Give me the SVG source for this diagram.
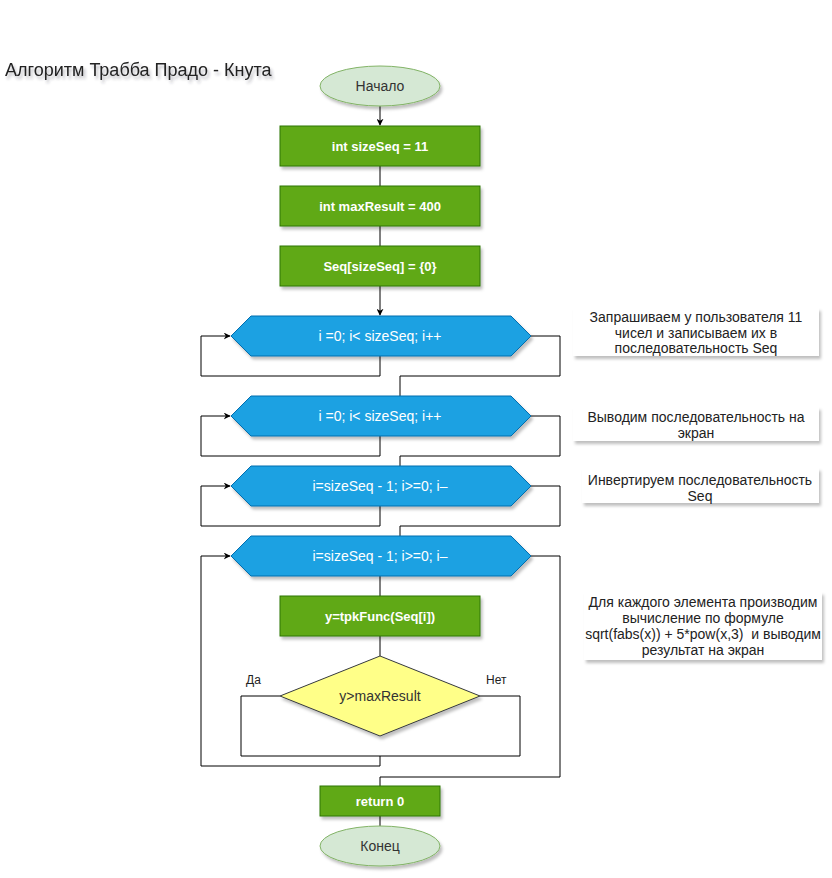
<svg xmlns="http://www.w3.org/2000/svg" width="832" height="878" viewBox="0 0 832 878">
<defs>
<filter id="sh" x="-10%" y="-20%" width="130%" height="160%">
<feDropShadow dx="2" dy="3" stdDeviation="1.5" flood-color="#000" flood-opacity="0.25"/>
</filter>
<filter id="tsh" x="-5%" y="-30%" width="115%" height="180%">
<feDropShadow dx="2" dy="3" stdDeviation="1.5" flood-color="#334" flood-opacity="0.35"/>
</filter>
<marker id="ar" viewBox="0 0 10 10" refX="9" refY="5" markerWidth="7" markerHeight="7" orient="auto" markerUnits="userSpaceOnUse">
<path d="M0,0 L10,5 L0,10 L3,5 Z" fill="#000"/>
</marker>
<style>
.t{font-family:"Liberation Sans",Arial,sans-serif;}
.g{fill:#60a917;stroke:#2d7600;stroke-width:1;filter:url(#sh);}
.h{fill:#1ba1e2;stroke:#006eaf;stroke-width:1;filter:url(#sh);}
.e{fill:#d5e8d4;stroke:#82b366;stroke-width:1;filter:url(#sh);}
.d{fill:#ffff88;stroke:#36393d;stroke-width:1;filter:url(#sh);}
.c{fill:#fff;stroke:none;filter:url(#sh);}
.wb{font-family:"Liberation Sans",Arial,sans-serif;font-size:13px;font-weight:bold;fill:#fff;text-anchor:middle;}
.w{font-family:"Liberation Sans",Arial,sans-serif;font-size:14px;fill:#fff;text-anchor:middle;}
.k{font-family:"Liberation Sans",Arial,sans-serif;font-size:14px;fill:#333;text-anchor:middle;}
.cm{font-family:"Liberation Sans",Arial,sans-serif;font-size:14px;fill:#222;text-anchor:middle;}
.lb{font-family:"Liberation Sans",Arial,sans-serif;font-size:12px;fill:#222;}
.ln{fill:none;stroke:#000;stroke-width:1;}
</style>
</defs>
<rect width="832" height="878" fill="#fff"/>
<text id="title" class="t" x="5" y="76" font-size="18" fill="#222" filter="url(#tsh)">Алгоритм Трабба Прадо - Кнута</text>

<g id="connectors">
<path class="ln" d="M380,106 V125" marker-end="url(#ar)"/>
<path class="ln" d="M380,166 V186"/>
<path class="ln" d="M380,226 V246"/>
<path class="ln" d="M380,286 V315" marker-end="url(#ar)"/>
<path class="ln" d="M380,356 V376 H201 V336 H230" marker-end="url(#ar)"/>
<path class="ln" d="M531,336 H560 V376 H400 V396"/>
<path class="ln" d="M380,436 V456 H201 V416 H230" marker-end="url(#ar)"/>
<path class="ln" d="M531,416 H560 V456 H400 V466"/>
<path class="ln" d="M380,506 V526 H201 V486 H230" marker-end="url(#ar)"/>
<path class="ln" d="M531,486 H560 V526 H400 V536"/>
<path class="ln" d="M380,576 V596"/>
<path class="ln" d="M380,636 V656"/>
<path class="ln" d="M280,696 H241 V756 H520 V696 H480"/>
<path class="ln" d="M380,756 V766 H201 V556 H230" marker-end="url(#ar)"/>
<path class="ln" d="M531,556 H560 V777 H380 V786"/>
<path class="ln" d="M380,816 V826"/>
</g>

<g id="start"><ellipse class="e" cx="380" cy="86" rx="60" ry="20"/><text class="k" x="380" y="91">Начало</text></g>
<g id="sizeSeq"><rect class="g" x="280" y="126" width="200" height="40"/><text class="wb" x="380" y="150.5">int sizeSeq = 11</text></g>
<g id="maxResult"><rect class="g" x="280" y="186" width="200" height="40"/><text class="wb" x="380" y="210.5">int maxResult = 400</text></g>
<g id="seqInit"><rect class="g" x="280" y="246" width="200" height="40"/><text class="wb" x="380" y="270.5">Seq[sizeSeq] = {0}</text></g>

<g id="loop1"><polygon class="h" points="231,336 251,316 511,316 531,336 511,356 251,356"/><text class="w" x="380" y="341">i =0; i&lt; sizeSeq; i++</text></g>
<g id="loop2"><polygon class="h" points="231,416 251,396 511,396 531,416 511,436 251,436"/><text class="w" x="380" y="421">i =0; i&lt; sizeSeq; i++</text></g>
<g id="loop3"><polygon class="h" points="231,486 251,466 511,466 531,486 511,506 251,506"/><text class="w" x="380" y="491">i=sizeSeq - 1; i&gt;=0; i–</text></g>
<g id="loop4"><polygon class="h" points="231,556 251,536 511,536 531,556 511,576 251,576"/><text class="w" x="380" y="561">i=sizeSeq - 1; i&gt;=0; i–</text></g>

<g id="calc"><rect class="g" x="280" y="596" width="200" height="40"/><text class="wb" x="380" y="620.5">y=tpkFunc(Seq[i])</text></g>
<g id="cond"><polygon class="d" points="380,656 480,696 380,736 280,696"/><text class="k" x="380" y="701">y&gt;maxResult</text>
<text class="lb" x="246" y="684">Да</text><text class="lb" x="486" y="684">Нет</text></g>

<g id="ret"><rect class="g" x="320" y="786" width="120" height="30"/><text class="wb" x="380" y="805.5">return 0</text></g>
<g id="end"><ellipse class="e" cx="380" cy="846" rx="60" ry="20"/><text class="k" x="380" y="851">Конец</text></g>

<g id="note1"><rect class="c" x="573" y="308" width="246" height="48"/>
<text class="cm" x="696" y="321.5">Запрашиваем у пользователя 11</text>
<text class="cm" x="696" y="337.5">чисел и записываем их в</text>
<text class="cm" x="696" y="353">последовательность Seq</text></g>
<g id="note2"><rect class="c" x="573" y="407" width="246" height="34"/>
<text class="cm" x="696" y="421.5">Выводим последовательность на</text>
<text class="cm" x="696" y="437.5">экран</text></g>
<g id="note3"><rect class="c" x="582" y="468" width="237" height="35"/>
<text class="cm" x="700" y="485">Инвертируем последовательность</text>
<text class="cm" x="700" y="500.5">Seq</text></g>
<g id="note4"><rect class="c" x="584" y="592" width="238" height="68"/>
<text class="cm" x="703" y="607">Для каждого элемента производим</text>
<text class="cm" x="703" y="623">вычисление по формуле</text>
<text class="cm" x="703" y="639" xml:space="preserve">sqrt(fabs(x)) + 5*pow(x,3)  и выводим</text>
<text class="cm" x="703" y="655">результат на экран</text></g>
</svg>
